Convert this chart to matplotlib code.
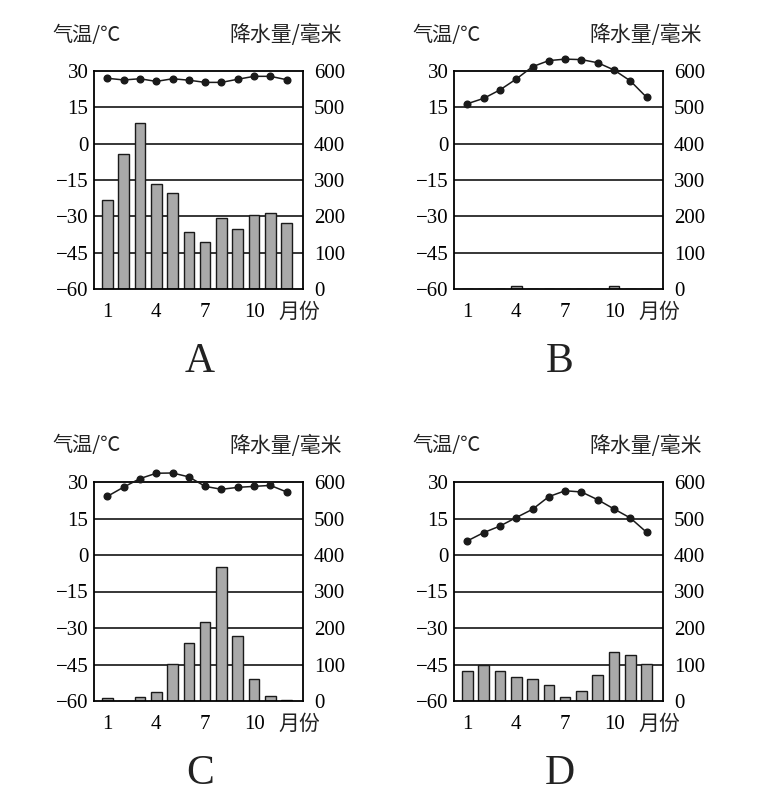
import matplotlib.pyplot as plt
import numpy as np
from matplotlib.transforms import blended_transform_factory

months = np.arange(1, 13)

# temperature (C) and precipitation (mm)
temp_a = [27.0, 26.3, 26.8, 25.7, 26.8, 26.2, 25.3, 25.3, 26.6, 27.8, 27.8, 26.4]
rain_a = [246, 371, 457, 290, 264, 156, 130, 195, 166, 205, 209, 182]

temp_b = [16.5, 18.7, 22.2, 26.7, 31.8, 34.3, 34.9, 34.7, 33.4, 30.4, 25.9, 19.1]
rain_b = [0, 0, 0, 8, 0, 0, 0, 0, 0, 8, 0, 0]

temp_c = [24.1, 27.9, 31.4, 33.6, 33.7, 32.1, 28.2, 27.0, 27.8, 28.2, 28.6, 25.9]
rain_c = [9, 1, 12, 25, 101, 158, 217, 368, 179, 59, 13, 3]

temp_d = [5.8, 9.2, 11.9, 15.4, 18.8, 24.0, 26.4, 25.9, 22.7, 18.9, 15.2, 9.3]
rain_d = [81, 98, 81, 67, 60, 44, 12, 28, 72, 135, 127, 102]

panel_names = ['A', 'B', 'C', 'D']
temp_ticks = [30, 15, 0, -15, -30, -45, -60]
rain_ticks = [600, 500, 400, 300, 200, 100, 0]
month_ticks = [1, 4, 7, 10]

serif = 'Liberation Serif'
cjk = ['Noto Sans CJK SC', 'DejaVu Sans']

W, H = 764, 809
fig = plt.figure(figsize=(W / 100, H / 100), dpi=100)

# axes boxes in pixels: left, top, right, bottom
boxes = [(94, 71, 303, 289), (454, 71, 663, 289),
         (94, 482, 303, 701), (454, 482, 663, 701)]
temps = [temp_a, temp_b, temp_c, temp_d]
rains = [rain_a, rain_b, rain_c, rain_d]

for (l, t, r, b), tmp, rn, name in zip(boxes, temps, rains, panel_names):
    rect = [l / W, 1 - b / H, (r - l) / W, (b - t) / H]
    ax2 = fig.add_axes(rect)                 # precipitation, underneath
    ax = fig.add_axes(rect, frameon=False)   # temperature, on top

    # precipitation (right axis)
    ax2.set_xlim(0.18, 13.0)
    ax2.set_ylim(0, 600)
    for v in rain_ticks[1:-1]:
        ax2.axhline(v, color='black', lw=1.1, zorder=0)
    ax2.bar(months, rn, width=0.65, color='#a9a9a9', edgecolor='#1a1a1a',
            linewidth=1.0, zorder=2)
    ax2.yaxis.tick_right()
    ax2.set_yticks(rain_ticks)
    ax2.set_yticklabels([str(v) for v in rain_ticks], fontfamily=serif, fontsize=15)
    ax2.tick_params(axis='y', length=0, pad=8)
    ax2.set_xticks(month_ticks)
    ax2.set_xticklabels([str(m) for m in month_ticks], fontfamily=serif, fontsize=15)
    ax2.tick_params(axis='x', length=0, pad=10)
    for s in ax2.spines.values():
        s.set_linewidth(1.3)

    # temperature (left axis)
    ax.set_xlim(0.18, 13.0)
    ax.set_ylim(-60, 30)
    ax.plot(months, tmp, color='#1a1a1a', lw=1.1, marker='o', markersize=4.8,
            zorder=3, clip_on=False)
    ax.set_yticks(temp_ticks)
    ax.set_yticklabels(['\u2212' + str(-v) if v < 0 else str(v) for v in temp_ticks],
                       fontfamily=serif, fontsize=15)
    ax.tick_params(axis='y', length=0, pad=4)
    ax.set_xticks([])

    ax.text(-0.2, 1.165, '气温/℃', transform=ax.transAxes, family=cjk,
            fontsize=14.5, ha='left', va='center', color='#222222')
    ax.text(1.187, 1.165, '降水量/毫米', transform=ax.transAxes, family=cjk,
            fontsize=15, ha='right', va='center', color='#222222')
    trans = blended_transform_factory(ax.transData, ax.transAxes)
    ax.text(12.75, -0.105, '月份', transform=trans, family=cjk,
            fontsize=15, ha='center', va='center', color='#222222')

    fig.text((l + 106) / W, 1 - (b + 73) / H, name, fontfamily=serif, fontsize=30,
             ha='center', va='center', color='#222222')

fig.savefig('out.png', dpi=100)
